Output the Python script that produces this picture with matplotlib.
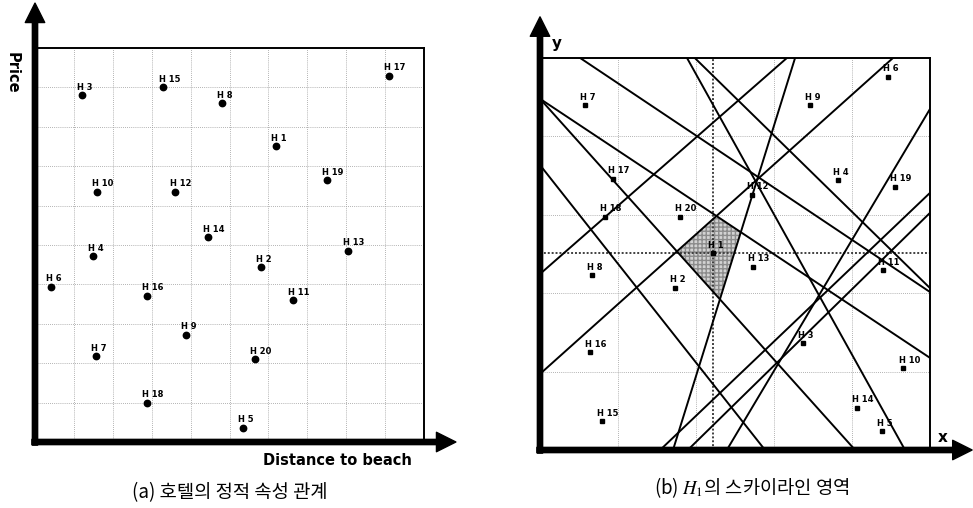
import numpy as np
import matplotlib.pyplot as plt

plt.rcParams['mathtext.fontset'] = 'stix'

# hotel numbers H1..H20
hotel_ids = list(range(1, 21))

# (a) distance to beach / price of each hotel
dist_a = [6.2, 5.8, 1.2, 1.48, 5.34, 0.4, 1.57, 4.8, 3.88, 1.6,
          6.62, 3.6, 8.04, 4.45, 3.3, 2.88, 9.1, 2.88, 7.5, 5.66]
price_a = [7.5, 4.43, 8.8, 4.72, 0.36, 3.94, 2.18, 8.6, 2.72, 6.35,
           3.6, 6.35, 4.86, 5.2, 9.0, 3.71, 9.3, 1.0, 6.65, 2.1]

# (b) hotel positions in x-y space
x_b = [4.44, 3.46, 6.75, 7.65, 8.76, 8.93, 1.15, 1.33, 6.92, 9.32,
       8.80, 5.43, 5.47, 8.12, 1.58, 1.28, 1.88, 1.67, 9.10, 3.59]
y_b = [5.02, 4.14, 2.72, 6.88, 0.48, 9.52, 8.79, 4.46, 8.79, 2.08,
       4.59, 6.51, 4.68, 1.08, 0.74, 2.49, 6.92, 5.95, 6.71, 5.95]

# (b) lines, each from (x0, y0) to (x1, y1) on the frame
seg_x0 = [1.03, 0.0, 6.54, 0.0, 0.0, 4.79, 3.08, 3.79, 0.0, 0.0, 3.77, 3.97]
seg_y0 = [10.0, 4.49, 10.0, 1.94, 8.96, 0.0, 0.0, 0.0, 7.27, 8.96, 10.0, 10.0]
seg_x1 = [10.0, 6.33, 3.41, 9.05, 10.0, 10.0, 10.0, 10.0, 5.77, 8.08, 9.36, 10.0]
seg_y1 = [4.03, 10.0, 0.0, 10.0, 2.35, 8.70, 6.56, 6.05, 0.0, 0.0, 0.0, 4.13]

# lines that bound the skyline region of H1, in order around it
region_lines = [3, 4, 2, 9]


def intersect(i, j):
    p = np.array([seg_x0[i], seg_y0[i]])
    r = np.array([seg_x1[i], seg_y1[i]]) - p
    q = np.array([seg_x0[j], seg_y0[j]])
    s = np.array([seg_x1[j], seg_y1[j]]) - q
    t = np.cross(q - p, s) / np.cross(r, s)
    return p + t * r


def setup_frame(ax, step, x_tip, y_tip):
    ax.set_xlim(0, 10)
    ax.set_ylim(0, 10)
    ax.set_xticks(np.arange(0, 10.01, step))
    ax.set_yticks(np.arange(0, 10.01, step))
    ax.tick_params(length=0, labelbottom=False, labelleft=False)
    ax.grid(True, color='#9a9a9a', lw=0.6, ls=(0, (1, 1.5)))
    ax.set_axisbelow(True)
    ax.spines['left'].set_visible(False)
    ax.spines['bottom'].set_visible(False)
    ax.spines['top'].set_linewidth(1.4)
    ax.spines['right'].set_linewidth(1.4)
    arrow = dict(width=3.8, headwidth=14, headlength=14, color='black', shrink=0)
    ax.annotate('', xy=(0, y_tip), xytext=(0, -0.008), xycoords='axes fraction',
                arrowprops=arrow, annotation_clip=False)
    ax.annotate('', xy=(x_tip, 0), xytext=(-0.008, 0), xycoords='axes fraction',
                arrowprops=arrow, annotation_clip=False)


def label_points(ax, xs, ys):
    for n, x, y in zip(hotel_ids, xs, ys):
        ax.annotate(f'H {n}', (x, y), xytext=(-3.5, 2.5), textcoords='offset points',
                    fontsize=6, fontweight='heavy', ha='left', va='bottom')


fig = plt.figure(figsize=(9.73, 5.08), dpi=100)

# (a)
ax_a = fig.add_axes([35 / 973, 1 - 442 / 508, 389 / 973, 394 / 508])
setup_frame(ax_a, 1, 1.082, 1.114)
ax_a.plot(dist_a, price_a, 'o', ms=4.6, color='black')
label_points(ax_a, dist_a, price_a)
ax_a.text(-0.059, 0.937, 'Price', transform=ax_a.transAxes, rotation=270,
          ha='center', va='center', fontsize=10.5, fontweight='bold')
ax_a.text(0.969, -0.046, 'Distance to beach', transform=ax_a.transAxes,
          ha='right', va='center', fontsize=10.5, fontweight='bold')

# (b)
ax_b = fig.add_axes([540 / 973, 1 - 450 / 508, 390 / 973, 392 / 508])
setup_frame(ax_b, 2, 1.108, 1.105)
ax_b.axvline(x_b[0], color='#404040', lw=1.4, ls=(0, (1, 1)))
ax_b.axhline(y_b[0], color='#404040', lw=1.4, ls=(0, (1, 1)))

corners = [intersect(region_lines[k], region_lines[(k + 1) % 4]) for k in range(4)]
corners = np.array(corners)
ax_b.fill(corners[:, 0], corners[:, 1], facecolor='#d2d2d2', edgecolor='#8c8c8c',
          hatch='++++', lw=0, zorder=1.5)

for x0, y0, x1, y1 in zip(seg_x0, seg_y0, seg_x1, seg_y1):
    ax_b.plot([x0, x1], [y0, y1], color='black', lw=1.4, zorder=2)

ax_b.plot(x_b, y_b, 's', ms=3.5, color='black', zorder=3)
label_points(ax_b, x_b, y_b)
ax_b.text(0.044, 1.038, 'y', transform=ax_b.transAxes, ha='center', va='center',
          fontsize=11, fontweight='bold')
ax_b.text(1.033, 0.033, 'x', transform=ax_b.transAxes, ha='center', va='center',
          fontsize=11, fontweight='bold')

# captions
fig.text(0.236, 0.031, '(a) 호텔의 정적 속성 관계', ha='center', va='center',
         fontsize=13.5, family='Noto Sans CJK KR')
fig.text(0.773, 0.041, '(b) $H_\\mathit{1}$의 스카이라인 영역', ha='center', va='center',
         fontsize=13.5, family='Noto Sans CJK KR')

fig.savefig('out.png', dpi=100)
